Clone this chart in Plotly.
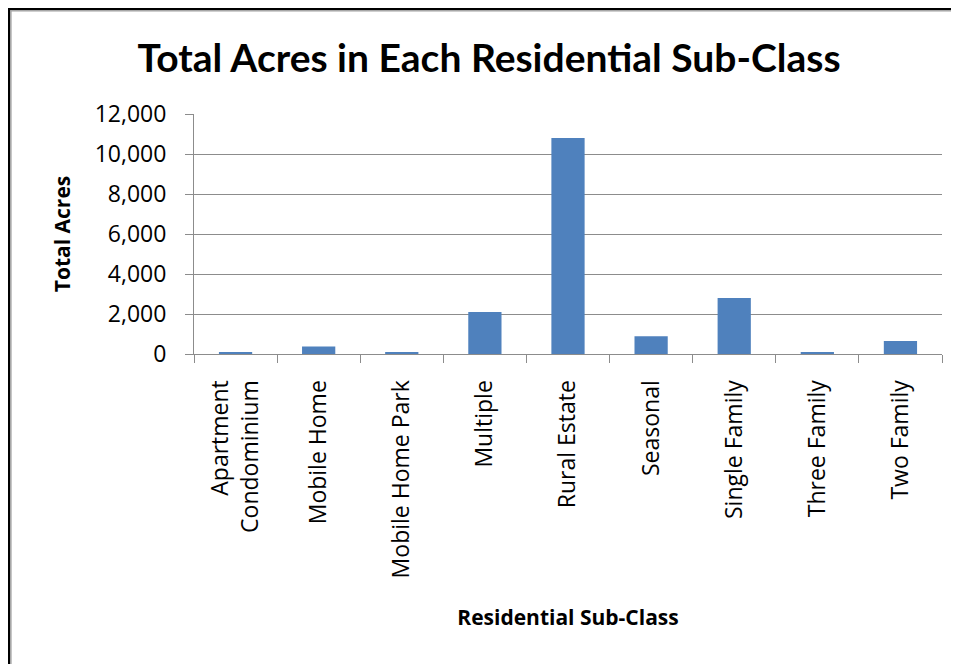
import plotly.graph_objects as go

# ── Data ─────────────────────────────────────────────────────────────────────

categories = [
    "Apartment<br>Condominium", "Mobile Home", "Mobile Home Park", "Multiple",
    "Rural Estate", "Seasonal", "Single Family", "Three Family", "Two Family",
]
total_acres = [80, 380, 70, 2100, 10800, 890, 2800, 70, 650]
y_ticks = [0, 2000, 4000, 6000, 8000, 10000, 12000]

# ── Layout constants (pixels, figure coords; page adds an 8px body margin) ──

W, H = 951, 656
PLOT_L, PLOT_R, PLOT_T, PLOT_B = 186, 934, 106, 346
BAR_COLOR = "#4F81BD"
AXIS_GREY = "#8C8C8C"
TICK_FONT = dict(family="Open Sans", size=23, color="#000000")
AXIS_TITLE_FONT = dict(family="Open Sans", size=21, color="#000000")


def px_x(x):
    return (x - PLOT_L) / (PLOT_R - PLOT_L)


def px_y(y):
    return (PLOT_B - y) / (PLOT_B - PLOT_T)


fig = go.Figure()
fig.add_trace(go.Bar(
    x=categories, y=total_acres,
    marker=dict(color=BAR_COLOR, line=dict(width=0)),
))

# outer frame of the pasted chart (left and top edges only visible)
frame = dict(type="path", xref="paper", yref="paper", layer="above")
fig.add_shape(**frame,
              path=f"M {px_x(0)} {px_y(H + 20)} L {px_x(0)} {px_y(0)} L {px_x(W + 20)} {px_y(0)}",
              line=dict(color="#000000", width=4.4))
fig.add_shape(**frame,
              path=f"M {px_x(2.9)} {px_y(H + 20)} L {px_x(2.9)} {px_y(2.9)} L {px_x(W + 20)} {px_y(2.9)}",
              line=dict(color="#A0A0A0", width=1.4))

fig.update_layout(
    width=W, height=H, autosize=False,
    margin=dict(l=PLOT_L, r=W - PLOT_R, t=PLOT_T, b=H - PLOT_B),
    plot_bgcolor="#FFFFFF", paper_bgcolor="#FFFFFF",
    bargap=0.6, showlegend=False,
    title=dict(
        text="<b>Total Acres in Each Residential Sub-Class</b>",
        x=481 / W, xref="container", y=1 - 50 / H, yref="container",
        xanchor="center", yanchor="middle",
        font=dict(family="Lato", size=39, color="#000000"),
    ),
    xaxis=dict(
        type="category", tickangle=-90, tickfont=TICK_FONT,
        showline=True, linecolor=AXIS_GREY, linewidth=1,
        ticks="outside", tickson="boundaries", ticklen=8, tickcolor=AXIS_GREY,
        ticklabelstandoff=16, showgrid=False,
        title=dict(text="<b>Residential Sub-Class</b>", standoff=32,
                   font=AXIS_TITLE_FONT),
    ),
    yaxis=dict(
        range=[0, 12000], tickvals=y_ticks, tickformat=",d", tickfont=TICK_FONT,
        showline=True, linecolor=AXIS_GREY, linewidth=1,
        ticks="outside", ticklen=8, tickcolor=AXIS_GREY, ticklabelstandoff=14,
        showgrid=True, gridcolor=AXIS_GREY, gridwidth=1, zeroline=False,
        title=dict(text="<b>Total Acres</b>", standoff=18,
                   font=AXIS_TITLE_FONT),
    ),
)

fig.write_html("out.html")
